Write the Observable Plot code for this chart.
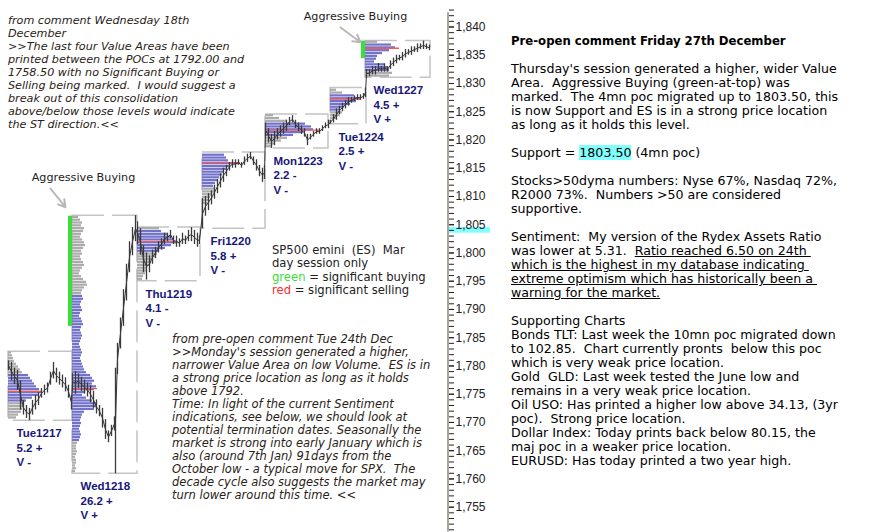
<!DOCTYPE html>
<html><head><meta charset="utf-8">
<script src="https://cdn.jsdelivr.net/npm/d3@7"></script>
<script src="https://cdn.jsdelivr.net/npm/@observablehq/plot@0.6"></script>
<style>
html,body{margin:0;padding:0;background:#fff;}
#wrap{position:relative;width:873px;height:532px;overflow:hidden;background:#fff;}
#chart{position:absolute;left:0;top:0;}
.blk{position:absolute;white-space:pre;font-family:"DejaVu Sans",sans-serif;margin:0;}
.ital{font-style:italic;font-size:11.2px;line-height:12.95px;color:#2a2216;}
#c1{left:8px;top:15px;}
#c2{left:172px;top:332.5px;line-height:13px;font-size:11.5px;}
#legend{left:272px;top:244px;font-size:11.6px;line-height:13.3px;color:#222;}
#right{left:511px;top:34px;font-size:12.6px;line-height:14px;color:#000;}
#right b{font-size:11.7px;}
.hl{background:#80ffff;}
.g{color:#3be03b;}
.r{color:#ff2a2a;}
</style></head>
<body>
<div id="wrap">
<div id="chart"></div>
<div class="blk ital" id="c1">from comment Wednesday 18th
December
&gt;&gt;The last four Value Areas have been
printed between the POCs at 1792.00 and
1758.50 with no Significant Buying or
Selling being marked.  I would suggest a
break out of this consolidation
above/below those levels would indicate
the ST direction.&lt;&lt;</div>
<div class="blk ital" id="c2">from pre-open comment Tue 24th Dec
&gt;&gt;Monday's session generated a higher,
narrower Value Area on low Volume.  ES is in
a strong price location as long as it holds
above 1792.
Time: In light of the current Sentiment
indications, see below, we should look at
potential termination dates. Seasonally the
market is strong into early January which is
also (around 7th Jan) 91days from the
October low - a typical move for SPX.  The
decade cycle also suggests the market may
turn lower around this time. &lt;&lt;</div>
<div class="blk" id="legend">SP500 emini  (ES)  Mar
day session only
<span class="g">green</span> = significant buying
<span class="r">red</span> = significant selling</div>
<div class="blk" id="right"><b>Pre-open comment Friday 27th December</b>

Thursday's session generated a higher, wider Value
Area.  Aggressive Buying (green-at-top) was
marked.  The 4mn poc migrated up to 1803.50, this
is now Support and ES is in a strong price location
as long as it holds this level.

Support = <span class="hl">1803.50</span> (4mn poc)

Stocks&gt;50dyma numbers: Nyse 67%, Nasdaq 72%,
R2000 73%.  Numbers &gt;50 are considered
supportive.

Sentiment:  My version of the Rydex Assets Ratio
was lower at 5.31.  <u>Ratio reached 6.50 on 24th </u>
<u>which is the highest in my database indicating </u>
<u>extreme optimism which has historically been a </u>
<u>warning for the market.</u>

Supporting Charts
Bonds TLT: Last week the 10mn poc migrated down
to 102.85.  Chart currently pronts  below this poc
which is very weak price location.
Gold  GLD: Last week tested the June low and
remains in a very weak price location.
Oil USO: Has printed a higher low above 34.13, (3yr
poc).  Strong price location.
Dollar Index: Today prints back below 80.15, the
maj poc in a weaker price location.
EURUSD: Has today printed a two year high.</div>
</div>
<script>
// ---- Sessions ----
const days = ["Tue1217","Wed1218","Thu1219","Fri1220","Mon1223","Tue1224","Wed1227"];
const dayStart = [8, 72, 137, 202, 265, 330, 365];   // time slot index
const dayEnd = [72, 137, 200, 265, 328, 366, 430];
const dayRange = ["5.2 +","26.2 +","4.1 -","5.8 +","2.2 -","2.5 +","4.5 +"];
const dayVolume = ["V -","V +","V -","V -","V -","V -","V +"];

// ---- Volume profiles (0.5 pt rows, from top) ----
const profileTop = [1782.5, 1806.5, 1804.5, 1817.5, 1824.5, 1829.0, 1837.5];
const valueAreaHigh = [1778.5, 1792.5, 1804.0, 1817.5, 1823.0, 1828.0, 1837.0];
const valueAreaLow = [1773.5, 1766.5, 1800.0, 1811.5, 1820.5, 1825.0, 1832.0];
const poc = [1775.5, 1776.0, 1802.0, 1816.0, 1821.75, 1827.25, 1836.25];
const pocLength = [34, 25, 41, 38, 55, 30, 34];
const profTue1217 = [3,4,5,6,8,10,12,14,20,22,24,26,28,31,34,30,24,18,16,15,14,13,10,8];
const profWed1218 = [6,8,10,9,12,11,9,8,10,12,13,11,9,10,8,9,11,12,10,8,7,9,11,14,15,12,10,9,
  10,11,9,8,9,10,8,7,9,10,11,9,8,9,10,9,8,7,8,9,10,9,8,9,10,11,12,
  14,18,20,22,20,24,22, 12,10,14, 20,24,25,22,
  12,10,9,8,9,8,7,8,9,8,7, 5,4,4,5,4,3,4,4,3,4,3];
const profThu1219 = [22,24,30,34,36,40,34,28,22,20,18,16,14,12,10,9,8,6,5];
const profFri1220 = [22,24,26,36,28,25,22,20,17,15,13,11,13,12,10,8,7,5];
const profMon1223 = [8,14,22,40,46,48,38,28,22,16,10,6];
const profTue1224 = [6,12,24,30,26,20,14,10,12,10,7];
const profWed1227 = [12,26,30,24,17,12,11,9,19,22,24,27,24];
const profiles = [profTue1217, profWed1218, profThu1219, profFri1220, profMon1223, profTue1224, profWed1227];

// ---- Aggressive buying (green-at-top) ----
const aggressiveDay = [1, 6];
const aggressiveFrom = [1806.5, 1837.5];
const aggressiveTo = [1787.0, 1834.4];
// annotation anchors [slot, price]: label centre, arrow start, arrow end
const aggLabelAt = [[83, 1813.3], [355, 1841.9]];
const aggArrowFrom = [[50, 1811.4], [340, 1839.9]];
const aggArrowTo = [[65, 1808.1], [360, 1837.3]];

// ---- Price bars [slot, high, low] ----
const barsTue1217 = [[8,1780.9,1779.2],[11,1780.6,1777.4],[14,1779.6,1776.7],[17,1779.2,1775.7],[20,1777.4,1772.2],[23,1773.9,1771.3],[26,1773.0,1770.7],[29,1772.5,1770.3],[32,1773.9,1771.3],[35,1774.8,1772.2],[38,1775.3,1773.0],[41,1776.0,1774.3],[44,1776.6,1774.8],[47,1777.0,1775.2],[50,1778.9,1776.6],[53,1780.6,1777.7],[56,1779.6,1777.0],[59,1778.9,1776.6],[62,1778.4,1776.1],[65,1777.9,1775.4],[68,1776.6,1774.3],[71,1774.8,1772.2]];
const barsWed1218 = [[72,1778.6,1775.5],[75,1779.0,1775.0],[78,1778.6,1776.0],[81,1778.0,1775.5],[84,1777.5,1775.0],[87,1777.0,1774.5],[90,1776.5,1773.5],[93,1775.5,1772.5],[96,1774.0,1771.5],[99,1773.0,1771.0],[102,1772.5,1769.0],[105,1770.5,1767.0],[108,1768.5,1766.4],[111,1769.5,1767.5],[114,1771.0,1768.5],[115,1779.6,1760.9],[117,1784.0,1778.5],[120,1788.5,1783.0],[123,1793.5,1787.0],[126,1798.0,1791.5],[129,1802.0,1796.5],[132,1804.5,1799.5],[135,1806.6,1802.0],[137,1805.5,1801.5]];
const barsThu1219 = [[140,1804.3,1799.6],[143,1801.3,1796.5],[146,1800.0,1795.2],[149,1799.5,1796.5],[152,1800.5,1798.0],[155,1801.0,1799.0],[158,1802.0,1800.0],[161,1802.5,1800.5],[164,1803.5,1801.5],[167,1803.5,1802.0],[170,1804.0,1802.5],[173,1803.0,1801.5],[176,1803.0,1801.0],[179,1802.5,1801.0],[182,1803.5,1801.5],[185,1803.0,1801.5],[188,1804.0,1802.0],[191,1804.5,1802.0],[194,1804.0,1801.5],[197,1803.5,1801.0],[199,1803.0,1801.5]];
const barsFri1220 = [[202,1809.6,1804.3],[205,1810.0,1806.5],[208,1810.5,1807.5],[211,1811.0,1808.5],[214,1812.0,1809.5],[217,1813.0,1810.5],[220,1814.0,1811.5],[223,1815.0,1812.5],[226,1815.5,1813.5],[229,1816.0,1814.5],[232,1816.5,1815.0],[235,1816.5,1815.0],[238,1816.5,1815.5],[241,1816.0,1815.0],[244,1817.0,1815.5],[247,1817.5,1816.0],[250,1817.8,1816.5],[253,1817.0,1815.5],[256,1816.5,1814.5],[259,1815.5,1813.5],[262,1815.0,1812.5],[264,1815.5,1813.0]];
const barsMon1223 = [[265,1823.0,1820.5],[268,1822.0,1819.5],[271,1821.0,1818.5],[274,1821.5,1819.0],[277,1822.0,1820.0],[280,1822.5,1820.5],[283,1823.0,1821.0],[286,1823.5,1821.5],[289,1824.0,1822.5],[292,1824.3,1823.0],[295,1823.5,1822.0],[298,1823.0,1821.5],[301,1822.5,1821.0],[304,1822.0,1820.5],[307,1821.0,1819.0],[310,1821.0,1820.0],[313,1821.5,1820.5],[316,1822.0,1821.0],[319,1822.0,1821.0],[322,1822.5,1821.5],[325,1823.0,1822.0],[328,1823.5,1822.0]];
const barsTue1224 = [[330,1823.5,1822.8],[333,1824.5,1823.0],[336,1825.5,1823.5],[339,1826.0,1824.5],[342,1826.5,1825.0],[345,1827.0,1825.5],[348,1827.5,1826.0],[351,1827.5,1826.5],[354,1827.8,1826.8],[357,1828.0,1827.0],[360,1828.0,1827.0],[363,1828.2,1827.2],[365,1829.2,1827.5]];
const barsWed1227 = [[366,1832.5,1831.0],[369,1832.5,1831.2],[372,1833.0,1831.5],[375,1833.0,1831.5],[378,1833.5,1832.0],[381,1833.0,1832.0],[384,1833.5,1832.0],[387,1833.0,1832.0],[390,1834.0,1832.5],[393,1834.5,1833.0],[396,1835.0,1833.5],[399,1835.0,1834.0],[402,1835.5,1834.0],[405,1836.0,1834.5],[408,1836.0,1835.0],[411,1836.5,1835.0],[414,1836.5,1835.5],[417,1837.0,1835.5],[420,1837.0,1836.0],[423,1837.5,1836.0],[426,1837.0,1836.0],[429,1836.8,1835.8]];
const bars = [barsTue1217, barsWed1218, barsThu1219, barsFri1220, barsMon1223, barsTue1224, barsWed1227];

// ---- Axis ----
const majorTicks = d3.range(1755, 1845, 5);
const minorTicks = d3.range(1751, 1844, 1);
const supportLevel = 1803.5;
const priceDomain = [1750.52, 1844.69];
const slotDomain = [0, 448];

// ---- Build tables ----
const ROW = 0.5;
const profileRows = days.flatMap((d, k) => profiles[k].map((w, i) => {
  const top = profileTop[k] - i * ROW, bot = top - ROW;
  return {day: d, x1: dayStart[k], x2: dayStart[k] + w, y1: bot, y2: top,
          va: top <= valueAreaHigh[k] + 1e-9 && bot >= valueAreaLow[k] - 1e-9};
}));
const barRows = days.flatMap((d, k) => bars[k].map(([t, h, l]) => ({day: d, t, h, l, m: (h + l) / 2})));
const dayRows = days.map((d, k) => {
  const pb = profileTop[k] - profiles[k].length * ROW;
  const hi = Math.max(profileTop[k], d3.max(bars[k], b => b[1]));
  const lo = Math.min(pb, d3.min(bars[k], b => b[2]));
  return {day: d, x1: dayStart[k], x2: dayEnd[k], hi, lo, poc: poc[k], pocEnd: dayStart[k] + pocLength[k],
          label: d + "\n" + dayRange[k] + "\n" + dayVolume[k]};
});
const aggRows = aggressiveDay.map((k, j) => ({x: dayStart[k], y1: aggressiveTo[j], y2: aggressiveFrom[j],
  lx: aggLabelAt[j][0], ly: aggLabelAt[j][1],
  ax1: aggArrowFrom[j][0], ay1: aggArrowFrom[j][1], ax2: aggArrowTo[j][0], ay2: aggArrowTo[j][1]}));

const chart = Plot.plot({
  width: 873, height: 532,
  marginTop: 0, marginBottom: 0, marginLeft: 0, marginRight: 873 - slotDomain[1],
  x: {domain: slotDomain, axis: null},
  y: {domain: priceDomain, axis: null},
  style: {background: "transparent", overflow: "visible"},
  marks: [
    Plot.rect(dayRows, {x1: "x1", x2: "x2", y1: "lo", y2: "hi", fill: "none", stroke: "#c4c4c4", strokeWidth: 1.5, strokeDasharray: "32,8"}),
    Plot.rect(profileRows, {x1: "x1", x2: "x2", y1: "y1", y2: "y2", fill: d => d.va ? "#7272ca" : "#ababab", insetBottom: 0.6}),
    Plot.rect(aggRows, {x1: d => d.x - 4, x2: "x", y1: "y1", y2: "y2", fill: "#38e038"}),
    Plot.ruleY(dayRows, {y: "poc", x1: "x1", x2: "pocEnd", stroke: "#f25a5a", strokeWidth: 1.4}),
    Plot.line(barRows, {x: "t", y: "m", stroke: "#333", strokeWidth: 1, curve: "linear"}),
    Plot.ruleX(barRows, {x: "t", y1: "l", y2: "h", stroke: "#3a3a3a", strokeWidth: 1.3}),
    Plot.text(dayRows, {x: "x1", y: "lo", text: "label", dx: 8, dy: 6, textAnchor: "start", lineAnchor: "top",
      lineHeight: 1.27, fontFamily: "Liberation Sans", fontWeight: "bold", fontSize: 11.5, fill: "#17177a"}),
    Plot.arrow(aggRows, {x1: "ax1", y1: "ay1", x2: "ax2", y2: "ay2", stroke: "#b8b8b8", strokeWidth: 2, headLength: 7}),
    Plot.text(aggRows, {x: "lx", y: "ly", text: () => "Aggressive Buying",
      fontFamily: "DejaVu Sans", fontSize: 11.2, fill: "#222"}),
    Plot.rect([supportLevel], {y1: d => d, y2: d => d + 1, x1: slotDomain[1] + 1, x2: slotDomain[1] + 42, fill: "#80ffff"}),
    Plot.ruleX([slotDomain[1]], {y1: 1750.6, y2: 1842.5, stroke: "#aaa49a", strokeWidth: 2, dx: -0.5}),
    Plot.axisY(minorTicks, {anchor: "right", tickSize: 5, tickFormat: () => "", label: null, stroke: "#222"}),
    Plot.axisY(majorTicks, {anchor: "right", tickSize: 5, tickPadding: 2, tickFormat: d3.format(","), label: null,
      fontFamily: "Liberation Sans", fontSize: 12, fill: "#222", stroke: "#222"})
  ]
});
document.getElementById("chart").appendChild(chart);
</script>
</body></html>
